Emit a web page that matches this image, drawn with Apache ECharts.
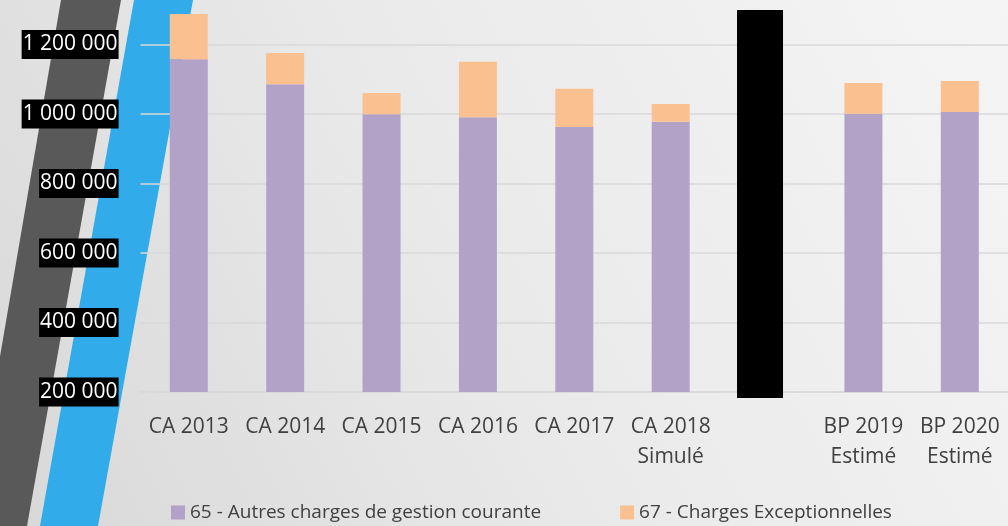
<!DOCTYPE html>
<html>
<head>
<meta charset="utf-8">
<script src="https://cdn.jsdelivr.net/npm/echarts@6/dist/echarts.min.js"></script>
<style>
html,body{margin:0;padding:0;background:#ebebeb;}
#chart{width:1008px;height:526px;}
</style>
</head>
<body>
<div id="chart"></div>
<script>
// ---- data ----
var categories = ['CA 2013', 'CA 2014', 'CA 2015', 'CA 2016', 'CA 2017', 'CA 2018\nSimulé', '', 'BP 2019\nEstimé', 'BP 2020\nEstimé'];
var seriesNames = ['65 - Autres charges de gestion courante', '67 - Charges Exceptionnelles'];
var autresCharges = [1157500, 1085600, 999200, 990600, 962700, 977900, null, 1001000, 1005800];
var chargesExcept = [130400, 90000, 61300, 160000, 110200, 51000, null, 88300, 89300];
var maskData = [null, null, null, null, null, null, 1, null, null];
var yMin = 200000, yMax = 1300000, yStep = 200000;

function fmt(v) {
  return String(Math.round(v)).replace(/\B(?=(\d{3})+(?!\d))/g, ' ');
}

var chart = echarts.init(document.getElementById('chart'));
var FONT = '"Open Sans", sans-serif';
var option = {
  animation: false,
  backgroundColor: {
    type: 'linear', x: 0, y: 1, x2: 1, y2: 0,
    colorStops: [
      { offset: 0, color: '#d8d8d8' },
      { offset: 0.45, color: '#e9e9e9' },
      { offset: 1, color: '#f5f5f5' }
    ]
  },
  graphic: {
    elements: [
      { type: 'polygon', z: -10, silent: true,
        shape: { points: [[61, 0], [121, 0], [27, 526], [-29, 526]] },
        style: { fill: '#595959' } },
      { type: 'polygon', z: -10, silent: true,
        shape: { points: [[134, 0], [193, 0], [98, 526], [40, 526]] },
        style: { fill: '#31abe9' } }
    ]
  },
  legend: {
    data: seriesNames,
    left: 166,
    top: 498,
    icon: 'rect',
    itemWidth: 14,
    itemHeight: 14,
    itemGap: 79,
    textStyle: { fontFamily: FONT, fontSize: 19, color: '#404040' }
  },
  grid: [
    { left: 140.6, right: -3, top: 9.75, bottom: 134 },
    { left: 131.4, right: 6.2, top: 10, bottom: 128 }
  ],
  xAxis: [
    {
      type: 'category', gridIndex: 0, data: categories,
      axisTick: { show: false },
      axisLine: { show: true, lineStyle: { color: '#d9d9d9', width: 1.5 } },
      axisLabel: {
        interval: 0, margin: 20, fontFamily: FONT, fontSize: 21,
        lineHeight: 30, color: '#404040'
      }
    },
    {
      type: 'category', gridIndex: 1, data: categories, show: false
    }
  ],
  yAxis: [
    {
      type: 'value', gridIndex: 0, min: yMin, max: yMax, interval: yStep,
      axisLine: { show: false }, axisTick: { show: false },
      splitLine: { showMaxLine: false, lineStyle: { color: '#d9d9d9', width: 1.5 } },
      axisLabel: {
        showMaxLabel: false,
        margin: 22, fontFamily: FONT, fontSize: 21, lineHeight: 21,
        color: '#ffffff', backgroundColor: '#000000', padding: [4, 1, 4, 1],
        formatter: function (v) { return fmt(v); }
      }
    },
    {
      type: 'value', gridIndex: 1, min: 0, max: 1, show: false,
      splitLine: { show: false }
    }
  ],
  series: [
    {
      name: seriesNames[0], type: 'bar', stack: 'total', barWidth: 38,
      xAxisIndex: 0, yAxisIndex: 0,
      itemStyle: { color: '#b3a2c7' },
      data: autresCharges
    },
    {
      name: seriesNames[1], type: 'bar', stack: 'total', barWidth: 38,
      xAxisIndex: 0, yAxisIndex: 0,
      itemStyle: { color: '#fac090' },
      data: chargesExcept
    },
    {
      name: 'masque', type: 'bar', barWidth: 46,
      xAxisIndex: 1, yAxisIndex: 1,
      itemStyle: { color: '#000000' },
      data: maskData
    }
  ]
};
chart.setOption(option);
</script>
</body>
</html>
